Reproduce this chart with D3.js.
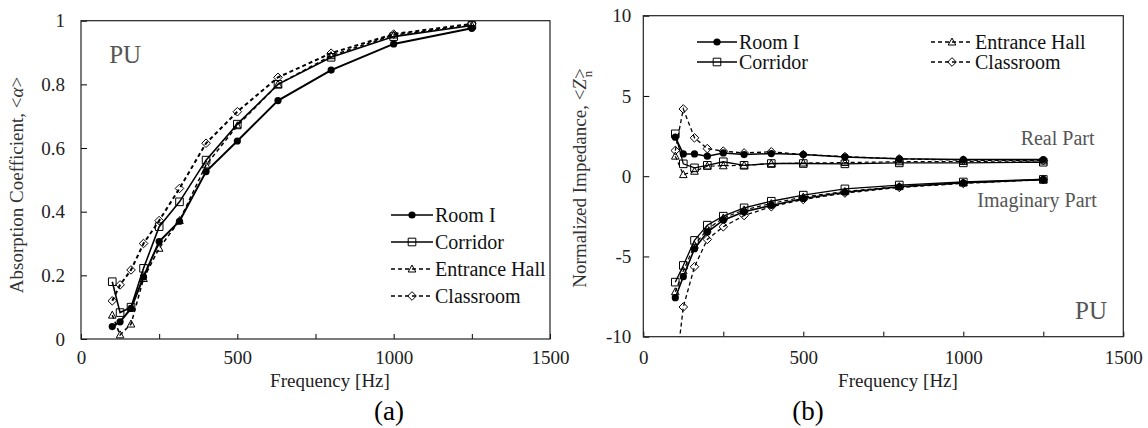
<!DOCTYPE html>
<html>
<head>
<meta charset="utf-8">
<script src="https://cdn.jsdelivr.net/npm/d3@7"></script>
<style>
  body { margin: 0; background: #fff; }
  text { font-family: "Liberation Serif", "DejaVu Serif", serif; }
</style>
</head>
<body>
<svg id="chart" width="1148" height="428"></svg>
<script>
// third-octave centre frequencies [Hz]
var freqs = [100, 125, 160, 200, 250, 315, 400, 500, 630, 800, 1000, 1250];
var names = ["Room I", "Corridor", "Entrance Hall", "Classroom"];

// (a) absorption coefficient
var alphaRoomI     = [0.039, 0.054, 0.096, 0.195, 0.306, 0.37, 0.526, 0.622, 0.749, 0.845, 0.927, 0.976];
var alphaCorridor  = [0.18, 0.083, 0.10, 0.222, 0.353, 0.431, 0.562, 0.675, 0.80, 0.885, 0.95, 0.985];
var alphaEntrance  = [0.075, 0.013, 0.047, 0.19, 0.285, 0.372, 0.547, 0.67, 0.80, 0.89, 0.955, 0.985];
var alphaClassroom = [0.12, 0.17, 0.217, 0.30, 0.372, 0.473, 0.615, 0.714, 0.822, 0.898, 0.958, 0.99];

// (b) normalized impedance, real part
var reRoomI     = [2.43, 1.39, 1.39, 1.25, 1.45, 1.35, 1.41, 1.35, 1.2, 1.08, 1.04, 1.04];
var reCorridor  = [2.64, 0.77, 0.52, 0.68, 0.9, 0.68, 0.79, 0.79, 0.77, 0.83, 0.83, 0.87];
var reEntrance  = [1.25, 0.1, 0.31, 0.62, 0.65, 0.68, 0.78, 0.82, 0.85, 0.9, 0.92, 0.95];
var reClassroom = [1.6, 4.19, 2.39, 1.72, 1.56, 1.45, 1.52, 1.35, 1.22, 1.08, 1.0, 0.97];

// (b) normalized impedance, imaginary part
var imRoomI     = [-7.57, -6.26, -4.52, -3.48, -2.74, -2.22, -1.82, -1.39, -1.0, -0.66, -0.41, -0.2];
var imCorridor  = [-6.6, -5.56, -4.0, -3.05, -2.49, -1.97, -1.56, -1.18, -0.79, -0.55, -0.36, -0.2];
var imEntrance  = [-7.2, -5.9, -4.3, -3.3, -2.6, -2.1, -1.7, -1.3, -0.95, -0.65, -0.42, -0.22];
var imClassroom = [-12.4, -8.15, -5.64, -3.94, -3.15, -2.45, -1.9, -1.45, -1.05, -0.7, -0.45, -0.22];

var xTicks = [0, 250, 500, 750, 1000, 1250, 1500];
var alphaTicks = [0, 0.2, 0.4, 0.6, 0.8, 1];
var zTicks = [-10, -5, 0, 5, 10];

var markers = ["circle", "square", "triangle", "diamond"];
var dashes = [null, null, "4,3", "4,3"];

var svg = d3.select("#chart");
svg.append("rect").attr("width", 1148).attr("height", 428).attr("fill", "#fff");

function markerPath(type) {
    if (type == "square") return "M-3.8,-3.8h7.6v7.6h-7.6Z";
    if (type == "triangle") return "M0,-4L3.8,3L-3.8,3Z";
    return "M0,-4.3L4.3,0L0,4.3L-4.3,0Z";
}

function drawMarker(g, type, x, y) {
    if (type == "circle") {
        g.append("circle").attr("cx", x).attr("cy", y).attr("r", 3.6).attr("fill", "#000");
    } else {
        g.append("path").attr("d", markerPath(type))
            .attr("transform", "translate(" + x + "," + y + ")")
            .attr("fill", "none").attr("stroke", "#000").attr("stroke-width", 1);
    }
}

function panel(id, left, right, top, bottom, ydom, yticks, yfmt, ypad, xpad) {
    var x = d3.scaleLinear().domain([0, 1500]).range([left, right]);
    var y = d3.scaleLinear().domain(ydom).range([bottom, top]);

    svg.append("clipPath").attr("id", id)
        .append("rect").attr("x", left).attr("y", top)
        .attr("width", right - left).attr("height", bottom - top);

    var xAxis = d3.axisBottom(x).tickValues(xTicks).tickSize(-5).tickPadding(xpad)
        .tickFormat(function (d) { return d % 500 == 0 ? d : ""; });
    svg.append("g").attr("transform", "translate(0," + bottom + ")").call(xAxis)
        .call(function (g) { g.select(".domain").remove(); })
        .attr("font-family", "Liberation Serif").attr("font-size", "19px");

    var yAxis = d3.axisLeft(y).tickValues(yticks).tickSize(-6).tickPadding(ypad).tickFormat(yfmt);
    svg.append("g").attr("transform", "translate(" + left + ",0)").call(yAxis)
        .call(function (g) { g.select(".domain").remove(); })
        .attr("font-family", "Liberation Serif").attr("font-size", "19px");

    svg.selectAll(".tick text").attr("fill", "#222");

    svg.append("rect").attr("x", left).attr("y", top)
        .attr("width", right - left).attr("height", bottom - top)
        .attr("fill", "none").attr("stroke", "#222").attr("stroke-width", 1.2);

    return { x: x, y: y, plot: svg.append("g").attr("clip-path", "url(#" + id + ")") };
}

function drawSeries(p, values, i, width) {
    var line = d3.line()
        .x(function (d, k) { return p.x(freqs[k]); })
        .y(function (d) { return p.y(d); });
    p.plot.append("path").datum(values).attr("d", line)
        .attr("fill", "none").attr("stroke", "#000")
        .attr("stroke-width", width)
        .attr("stroke-dasharray", dashes[i]);
    values.forEach(function (v, k) {
        drawMarker(p.plot, markers[i], p.x(freqs[k]), p.y(v));
    });
}

function legendItem(x0, y0, i, len) {
    var g = svg.append("g");
    g.append("line").attr("x1", x0).attr("x2", x0 + len).attr("y1", y0).attr("y2", y0)
        .attr("stroke", "#000").attr("stroke-width", 1.3).attr("stroke-dasharray", dashes[i]);
    drawMarker(g, markers[i], x0 + len / 2, y0);
    g.append("text").attr("x", x0 + len + 2).attr("y", y0 + 7)
        .attr("font-size", "20px").attr("fill", "#111").text(names[i]);
}

// ---------- (a) absorption coefficient ----------
var pa = panel("clipA", 81, 550, 20.7, 339, [0, 1], alphaTicks,
    function (d) { return String(+d.toFixed(1)); }, 16, 12);

[alphaRoomI, alphaCorridor, alphaEntrance, alphaClassroom].forEach(function (s, i) {
    drawSeries(pa, s, i, [2, 1.6, 1.5, 2][i]);
});

legendItem(391, 215, 0, 42);
legendItem(391, 242, 1, 42);
legendItem(391, 269, 2, 42);
legendItem(391, 296, 3, 42);

svg.append("text").attr("x", pa.x(90)).attr("y", pa.y(0.867))
    .attr("font-size", "25px").attr("fill", "#555").text("PU");

svg.append("text").attr("transform", "translate(23,185) rotate(-90)")
    .attr("text-anchor", "middle").attr("font-size", "19px").attr("fill", "#333")
    .text("Absorption Coefficient, <")
    .call(function (t) {
        t.append("tspan").attr("font-style", "italic").text("\u03b1");
        t.append("tspan").text(">");
    });

svg.append("text").attr("x", 330).attr("y", 387).attr("text-anchor", "middle")
    .attr("font-size", "19px").attr("fill", "#222").text("Frequency [Hz]");
svg.append("text").attr("x", 389).attr("y", 420).attr("text-anchor", "middle")
    .attr("font-size", "27px").attr("fill", "#000").text("(a)");

// ---------- (b) normalized impedance ----------
var pb = panel("clipB", 643.3, 1123.3, 15.7, 336.7, [-10, 10], zTicks,
    function (d) { return String(d); }, 12, 14);

[reRoomI, reCorridor, reEntrance, reClassroom].forEach(function (s, i) {
    drawSeries(pb, s, i, [1.5, 1.3, 1.2, 1.3][i]);
});
[imRoomI, imCorridor, imEntrance, imClassroom].forEach(function (s, i) {
    drawSeries(pb, s, i, [1.6, 1.3, 1.2, 1.3][i]);
});

legendItem(697, 42, 0, 40);
legendItem(697, 62, 1, 40);
legendItem(931, 42, 2, 42);
legendItem(931, 62, 3, 42);

svg.append("text").attr("x", pb.x(1410)).attr("y", pb.y(1.97)).attr("text-anchor", "end")
    .attr("font-size", "20px").attr("fill", "#555").text("Real Part");
svg.append("text").attr("x", pb.x(1417)).attr("y", pb.y(-1.9)).attr("text-anchor", "end")
    .attr("font-size", "20px").attr("fill", "#555").text("Imaginary Part");
svg.append("text").attr("x", pb.x(1449)).attr("y", pb.y(-8.9)).attr("text-anchor", "end")
    .attr("font-size", "25px").attr("fill", "#555").text("PU");

svg.append("text").attr("transform", "translate(586,178) rotate(-90)")
    .attr("text-anchor", "middle").attr("font-size", "19px").attr("fill", "#333")
    .text("Normalized Impedance, <")
    .call(function (t) {
        t.append("tspan").attr("font-style", "italic").text("Z");
        t.append("tspan").text(">");
        t.append("tspan").attr("dx", -9).attr("dy", 6).attr("font-size", "13px").text("n");
    });

svg.append("text").attr("x", 898).attr("y", 387).attr("text-anchor", "middle")
    .attr("font-size", "19px").attr("fill", "#222").text("Frequency [Hz]");
svg.append("text").attr("x", 808).attr("y", 420).attr("text-anchor", "middle")
    .attr("font-size", "27px").attr("fill", "#000").text("(b)");
</script>
</body>
</html>
